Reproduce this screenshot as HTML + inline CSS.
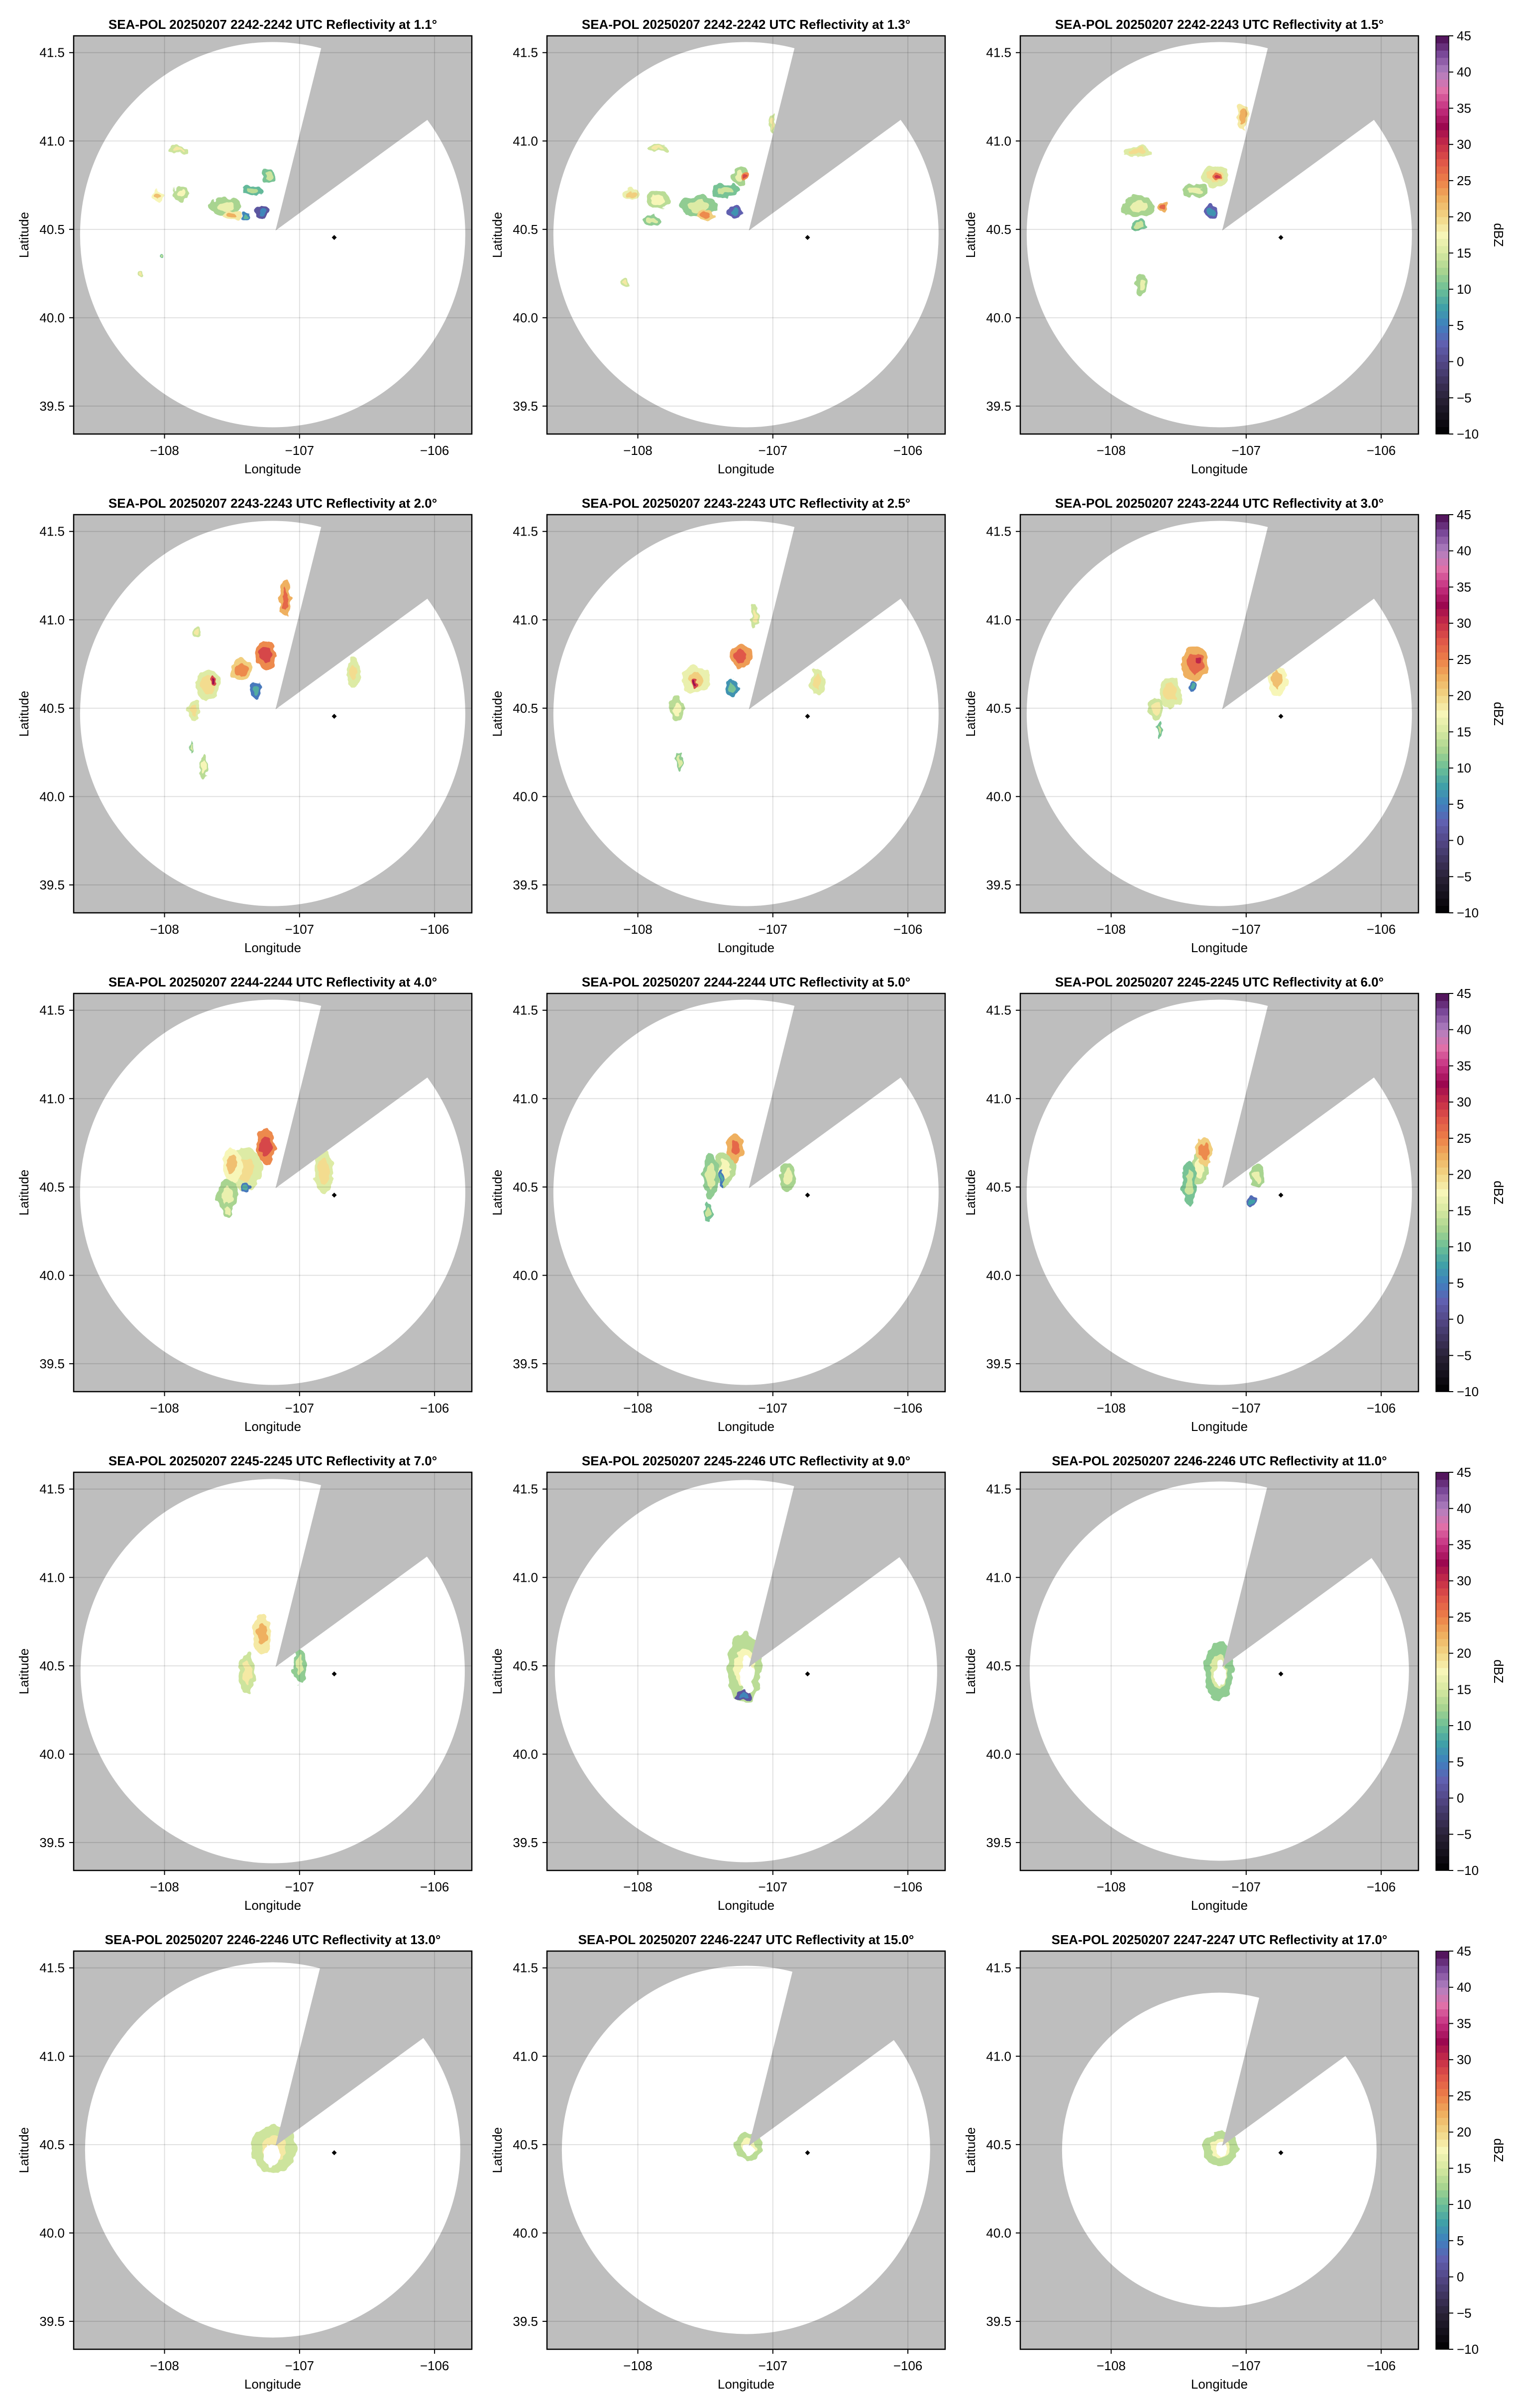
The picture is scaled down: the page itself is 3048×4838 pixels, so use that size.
<!DOCTYPE html>
<html><head><meta charset="utf-8">
<style>
html,body{margin:0;padding:0;background:#fff;}
svg{display:block;font-family:"Liberation Sans",Arial,sans-serif;}
</style></head>
<body>
<svg id="fig" width="3048" height="4838" viewBox="0 0 3048 4838" xmlns="http://www.w3.org/2000/svg">
<defs>
<filter id="rough" x="-30%" y="-30%" width="160%" height="160%">
<feTurbulence type="fractalNoise" baseFrequency="0.06" numOctaves="2" seed="3" result="n"/>
<feDisplacementMap in="SourceGraphic" in2="n" scale="16" xChannelSelector="R" yChannelSelector="G"/>
</filter>
</defs>
</svg>
<script>
// ---------- data ----------
const titles = [
 "SEA-POL 20250207 2242-2242 UTC Reflectivity at 1.1°",
 "SEA-POL 20250207 2242-2242 UTC Reflectivity at 1.3°",
 "SEA-POL 20250207 2242-2243 UTC Reflectivity at 1.5°",
 "SEA-POL 20250207 2243-2243 UTC Reflectivity at 2.0°",
 "SEA-POL 20250207 2243-2243 UTC Reflectivity at 2.5°",
 "SEA-POL 20250207 2243-2244 UTC Reflectivity at 3.0°",
 "SEA-POL 20250207 2244-2244 UTC Reflectivity at 4.0°",
 "SEA-POL 20250207 2244-2244 UTC Reflectivity at 5.0°",
 "SEA-POL 20250207 2245-2245 UTC Reflectivity at 6.0°",
 "SEA-POL 20250207 2245-2245 UTC Reflectivity at 7.0°",
 "SEA-POL 20250207 2245-2246 UTC Reflectivity at 9.0°",
 "SEA-POL 20250207 2246-2246 UTC Reflectivity at 11.0°",
 "SEA-POL 20250207 2246-2246 UTC Reflectivity at 13.0°",
 "SEA-POL 20250207 2246-2247 UTC Reflectivity at 15.0°",
 "SEA-POL 20250207 2247-2247 UTC Reflectivity at 17.0°"
];
const xTicks = [-108, -107, -106];
const xTickLabels = ["\u2212108", "\u2212107", "\u2212106"];
const yTicks = [39.5, 40.0, 40.5, 41.0, 41.5];
const yTickLabels = ["39.5", "40.0", "40.5", "41.0", "41.5"];
const cbTicks = [-10, -5, 0, 5, 10, 15, 20, 25, 30, 35, 40, 45];
const cbTickLabels = ["\u221210", "\u22125", "0", "5", "10", "15", "20", "25", "30", "35", "40", "45"];
const lonRange = [-108.673, -105.724];
const latRange = [39.342, 41.595];
const radarCenter = [-107.199, 40.470];
const wedgeApex = [-107.178, 40.493];
const wedgeAz = [14.06, 53.9];
const siteMarker = [-106.743, 40.454];
const sweepRange = [387,387,387, 387,387,387, 387,387,387, 386,384,381, 377,370,316];
// echo cells per sweep: [lon, lat, halfWidthLon, halfHeightLat, dBZ]  (dBZ null = clear hole)
const echoes = [
 [[-107.9,40.95,0.07,0.02,16],[-108.05,40.69,0.05,0.03,19],[-107.88,40.7,0.06,0.04,15],[-107.55,40.63,0.12,0.05,14],[-107.5,40.58,0.07,0.03,20],[-107.35,40.72,0.08,0.03,11],[-107.28,40.6,0.05,0.04,3],[-107.23,40.8,0.05,0.04,12],[-107.4,40.57,0.03,0.02,7],[-108.18,40.25,0.02,0.01,16],[-108.02,40.35,0.015,0.015,12]],
 [[-107.85,40.96,0.08,0.02,16],[-108.05,40.7,0.06,0.03,18],[-107.85,40.67,0.08,0.05,15],[-107.55,40.63,0.14,0.06,13],[-107.5,40.58,0.06,0.03,22],[-107.35,40.72,0.1,0.04,12],[-107.28,40.6,0.05,0.04,4],[-107.25,40.8,0.06,0.05,14],[-107.2,40.8,0.03,0.02,26],[-107.0,41.1,0.02,0.06,16],[-107.9,40.55,0.07,0.03,13],[-108.1,40.2,0.03,0.03,16]],
 [[-107.03,41.14,0.04,0.08,20],[-107.8,40.94,0.1,0.03,17],[-107.23,40.8,0.1,0.06,17],[-107.22,40.8,0.03,0.02,27],[-107.38,40.72,0.1,0.04,14],[-107.8,40.63,0.12,0.06,14],[-107.62,40.63,0.04,0.03,24],[-107.26,40.6,0.04,0.04,4],[-107.8,40.52,0.06,0.03,12],[-107.77,40.19,0.05,0.06,14],[-106.79,40.79,0.03,0.02,15]],
 [[-107.105,41.12,0.04,0.108,24],[-107.25,40.8,0.08,0.08,26],[-107.43,40.72,0.08,0.06,22],[-107.68,40.63,0.09,0.09,17],[-107.64,40.65,0.02,0.03,30],[-107.32,40.6,0.05,0.05,6],[-107.78,40.49,0.04,0.07,17],[-107.71,40.17,0.03,0.07,15],[-107.76,40.93,0.03,0.03,16],[-106.6,40.7,0.05,0.08,17],[-107.8,40.28,0.01,0.03,13]],
 [[-107.135,41.02,0.03,0.07,16],[-107.24,40.79,0.08,0.07,25],[-107.57,40.66,0.1,0.08,18],[-107.58,40.64,0.02,0.03,30],[-107.3,40.62,0.05,0.05,8],[-107.71,40.5,0.05,0.07,15],[-106.67,40.65,0.05,0.08,17],[-107.69,40.2,0.02,0.06,13]],
 [[-107.38,40.75,0.1,0.1,24],[-107.35,40.77,0.04,0.04,28],[-107.56,40.59,0.08,0.09,17],[-107.4,40.62,0.03,0.03,6],[-106.77,40.66,0.07,0.09,19],[-107.67,40.5,0.06,0.06,16],[-107.64,40.38,0.02,0.05,12]],
 [[-107.4,40.6,0.12,0.12,17],[-107.25,40.73,0.07,0.1,26],[-107.5,40.62,0.07,0.1,19],[-107.535,40.45,0.08,0.09,14],[-107.4,40.5,0.03,0.03,6],[-106.82,40.59,0.07,0.13,17],[-107.535,40.37,0.03,0.05,14]],
 [[-107.36,40.6,0.08,0.1,15],[-107.28,40.72,0.06,0.08,24],[-107.46,40.56,0.06,0.13,13],[-107.38,40.55,0.02,0.05,6],[-106.89,40.56,0.06,0.08,14],[-107.48,40.36,0.03,0.06,12]],
 [[-107.35,40.6,0.06,0.09,15],[-107.31,40.7,0.06,0.08,22],[-107.42,40.52,0.05,0.13,12],[-106.92,40.56,0.05,0.07,14],[-106.96,40.42,0.03,0.03,5]],
 [[-107.28,40.68,0.07,0.11,20],[-107.39,40.46,0.06,0.12,16],[-107.0,40.5,0.05,0.1,13],[-107.2,40.45,0.07,0.07,null]],
 [[-107.21,40.49,0.13,0.2,15],[-107.22,40.33,0.06,0.03,3],[-107.19,40.45,0.05,0.1,null]],
 [[-107.2,40.47,0.11,0.17,13],[-107.19,40.46,0.04,0.07,null]],
 [[-107.19,40.478,0.17,0.137,16],[-107.21,40.44,0.06,0.06,null]],
 [[-107.18,40.49,0.1,0.08,15],[-107.18,40.47,0.04,0.035,null]],
 [[-107.19,40.478,0.13,0.1,15],[-107.18,40.47,0.04,0.04,null]]
];
const cmapLevels = [-10,-5,0,2.5,5,7.5,10,12.5,15,17.5,20,22.5,25,27.5,30,32.5,35,37.5,40,42.5,45];
const cmapColors = ["#000000","#2a2238","#544888","#6060b0","#3f7fbf","#40a0a8","#6cbf96","#a8d490","#d6e8a0","#f7f6b8","#f2d585","#efb060","#ec8048","#e05848","#c62e48","#9c0850","#c43080","#e070a8","#b080c0","#7a4898","#4a0a50"];

// ---------- helpers ----------
const NS = "http://www.w3.org/2000/svg";
const svg = document.getElementById("fig");
function mk(tag, attrs, parent){ const e=document.createElementNS(NS,tag); for(const k in attrs) e.setAttribute(k,attrs[k]); (parent||svg).appendChild(e); return e; }
function hex2rgb(h){return [parseInt(h.slice(1,3),16),parseInt(h.slice(3,5),16),parseInt(h.slice(5,7),16)];}
function cmap(v){
  v=Math.floor(v)+0.5;
  if(v<=cmapLevels[0]) return cmapColors[0];
  for(let i=1;i<cmapLevels.length;i++){
    if(v<=cmapLevels[i]){
      const t=(v-cmapLevels[i-1])/(cmapLevels[i]-cmapLevels[i-1]);
      const a=hex2rgb(cmapColors[i-1]), b=hex2rgb(cmapColors[i]);
      return "rgb("+a.map((x,j)=>Math.round(x+(b[j]-x)*t)).join(",")+")";
    }
  }
  return cmapColors[cmapColors.length-1];
}
const W=800, H=800;
const colLeft=[148,1099,2050], rowTop=[72,1034,1996,2958,3920];
const FS=26;

for(let p=0;p<15;p++){
  const r=Math.floor(p/3), c=p%3;
  const L=colLeft[c], T=rowTop[r];
  const sx=lon=>L+(lon-lonRange[0])/(lonRange[1]-lonRange[0])*W;
  const sy=lat=>T+(latRange[1]-lat)/(latRange[1]-latRange[0])*H;
  const g=mk("g",{});
  
  
  const clip=mk("clipPath",{id:"clip"+p},g);
  mk("rect",{x:L,y:T,width:W,height:H},clip);
  const bg=mk("rect",{x:L,y:T,width:W,height:H,fill:"#bebebe"},g);
  
  
  const inner=mk("g",{"clip-path":"url(#clip"+p+")"},g);
  const circ=mk("circle",{cx:sx(radarCenter[0]),cy:sy(radarCenter[1]),r:sweepRange[p],fill:"#fff"},inner);
  
  
  const eg=mk("g",{filter:"url(#rough)"},inner);
  
  
  const kx=(W/(lonRange[1]-lonRange[0])), ky=(H/(latRange[1]-latRange[0]));
  echoes[p].forEach(e=>{
    const [lo,la,rx,ry,z]=e;
    if(z===null){
      const h=mk("ellipse",{cx:sx(lo),cy:sy(la),rx:rx*kx,ry:ry*ky,fill:"#fff"},eg);
      
      
      return;
    }
    const o=mk("ellipse",{cx:sx(lo),cy:sy(la),rx:rx*kx,ry:ry*ky,fill:cmap(z-2)},eg);
    
    
    const i=mk("ellipse",{cx:sx(lo),cy:sy(la),rx:rx*kx*0.55,ry:ry*ky*0.55,fill:cmap(z+2)},eg);
    
    
  });
  const ax=sx(wedgeApex[0]), ay=sy(wedgeApex[1]);
  const d2r=Math.PI/180, Lr=2000;
  const wpts=[[ax,ay],[ax+Lr*Math.sin(wedgeAz[0]*d2r),ay-Lr*Math.cos(wedgeAz[0]*d2r)],[ax+Lr*Math.sin(wedgeAz[1]*d2r),ay-Lr*Math.cos(wedgeAz[1]*d2r)]];
  const wedge=mk("polygon",{points:wpts.map(q=>q.join(",")).join(" "),fill:"#bebebe"},inner);
  
  
  xTicks.forEach(v=>{ const l=mk("line",{x1:sx(v),x2:sx(v),y1:T,y2:T+H,stroke:"rgba(0,0,0,0.12)","stroke-width":2},inner);
      });
  yTicks.forEach(v=>{ const l=mk("line",{x1:L,x2:L+W,y1:sy(v),y2:sy(v),stroke:"rgba(0,0,0,0.12)","stroke-width":2},inner);
      });
  const mx=sx(siteMarker[0]), my=sy(siteMarker[1]);
  const m=mk("polygon",{points:`${mx},${my-5} ${mx+5},${my} ${mx},${my+5} ${mx-5},${my}`,fill:"#000"},g);
  
  
  const fr=mk("rect",{x:L,y:T,width:W,height:H,fill:"none",stroke:"#000","stroke-width":2.5},g);
  
  
  xTicks.forEach((v,k)=>{
    mk("line",{x1:sx(v),x2:sx(v),y1:T+H,y2:T+H+9,stroke:"#000","stroke-width":2},g);
    const t=mk("text",{x:sx(v),y:T+H+42,"text-anchor":"middle","font-size":FS},g);
    t.textContent=xTickLabels[k];
     
  });
  yTicks.forEach((v,k)=>{
    mk("line",{x1:L-9,x2:L,y1:sy(v),y2:sy(v),stroke:"#000","stroke-width":2},g);
    const t=mk("text",{x:L-18,y:sy(v)+9,"text-anchor":"end","font-size":FS},g);
    t.textContent=yTickLabels[k];
     
  });
  const xl=mk("text",{x:L+W/2,y:T+H+79,"text-anchor":"middle","font-size":FS},g);
  xl.textContent="Longitude";
   
  const yl=mk("text",{x:0,y:0,"text-anchor":"middle","font-size":FS,transform:`translate(${L-91},${T+H/2}) rotate(-90)`},g);
  yl.textContent="Latitude";
   
  const tt=mk("text",{x:L+W/2,y:T-14,"text-anchor":"middle","font-size":FS,"font-weight":"bold"},g);
  tt.textContent=titles[p];
   

  if(c===2){
    const cg=mk("g",{},g);
    
    
    const cx0=2885, cw=26;
    const zmin=cbTicks[0], zmax=cbTicks[cbTicks.length-1];
    const cy=z=>T+(zmax-z)/(zmax-zmin)*H;
    for(let z=zmin; z<zmax; z++){
      mk("rect",{x:cx0,y:cy(z+1),width:cw,height:cy(z)-cy(z+1)+0.6,fill:cmap(z)},cg);
    }
    mk("rect",{x:cx0,y:T,width:cw,height:H,fill:"none",stroke:"#000","stroke-width":1.5},cg);
    cbTicks.forEach((v,k)=>{
      mk("line",{x1:cx0+cw,x2:cx0+cw+9,y1:cy(v),y2:cy(v),stroke:"#000","stroke-width":2},cg);
      const t=mk("text",{x:cx0+cw+16,y:cy(v)+9,"font-size":FS},cg);
      t.textContent=cbTickLabels[k];
       
    });
    const cl=mk("text",{x:0,y:0,"text-anchor":"middle","font-size":FS,transform:`translate(3002,${T+H/2}) rotate(90)`},cg);
    cl.textContent="dBZ";
     
  }
}
</script>
</body></html>
